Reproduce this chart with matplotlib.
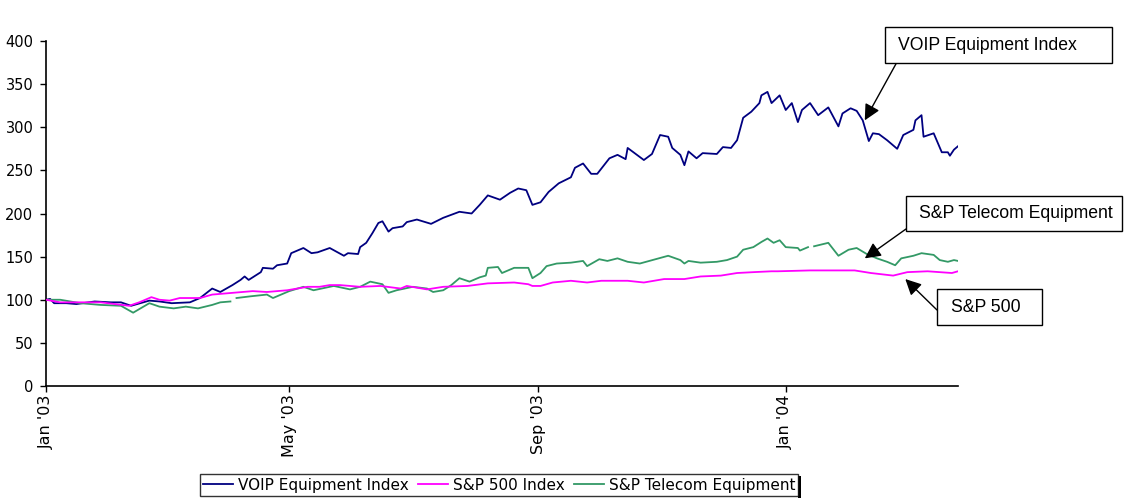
import matplotlib
matplotlib.use("Agg")
import matplotlib.pyplot as plt
from matplotlib.patches import Rectangle
import numpy as np
import pandas as pd

# ---------------- data ----------------
voip_dates = ["2003-01-01","2003-01-03","2003-01-05","2003-01-11","2003-01-16","2003-01-25","2003-02-02","2003-02-07",
              "2003-02-12","2003-02-21","2003-02-26","2003-03-04","2003-03-13","2003-03-18","2003-03-24","2003-03-28",
              "2003-04-03","2003-04-07","2003-04-09","2003-04-11","2003-04-17","2003-04-18","2003-04-23","2003-04-25",
              "2003-04-30","2003-05-02","2003-05-08","2003-05-12","2003-05-15","2003-05-21","2003-05-28","2003-05-30",
              "2003-06-04","2003-06-05","2003-06-08","2003-06-11","2003-06-14","2003-06-16","2003-06-19","2003-06-21",
              "2003-06-26","2003-06-28","2003-07-03","2003-07-10","2003-07-16","2003-07-24","2003-07-30","2003-08-03",
              "2003-08-07","2003-08-13","2003-08-18","2003-08-22","2003-08-26","2003-08-29","2003-09-02","2003-09-06",
              "2003-09-11","2003-09-17","2003-09-19","2003-09-23","2003-09-27","2003-09-30","2003-10-06","2003-10-10",
              "2003-10-14","2003-10-15","2003-10-23","2003-10-27","2003-10-31","2003-11-04","2003-11-06","2003-11-10",
              "2003-11-12","2003-11-14","2003-11-18","2003-11-21","2003-11-28","2003-12-01","2003-12-05","2003-12-08",
              "2003-12-11","2003-12-15","2003-12-19","2003-12-20","2003-12-23","2003-12-25","2003-12-29","2004-01-01",
              "2004-01-04","2004-01-07","2004-01-09","2004-01-13","2004-01-17","2004-01-22","2004-01-27","2004-01-29",
              "2004-02-02","2004-02-05","2004-02-08","2004-02-11","2004-02-13","2004-02-16","2004-02-20","2004-02-25",
              "2004-02-28","2004-03-04","2004-03-05","2004-03-08","2004-03-09","2004-03-14","2004-03-18","2004-03-21",
              "2004-03-22","2004-03-24","2004-03-26"]
voip_values = [100,101,96,96,95,98,97,97,
               93,99,98,96,97,102,113,109,
               117,123,127,123,132,137,136,140,
               142,154,160,154,155,160,151,154,
               153,161,166,177,189,191,179,183,
               185,190,193,188,195,202,200,210,
               221,216,224,229,227,210,213,225,
               235,242,253,258,246,246,264,268,
               263,276,262,269,291,289,276,268,
               256,272,264,270,269,277,276,285,
               311,318,328,337,341,328,337,320,
               328,306,320,328,314,323,301,316,
               322,319,308,284,293,292,285,275,
               291,297,308,314,289,293,271,271,
               267,274,278]

sp500_dates = ["2003-01-01","2003-01-08","2003-01-28","2003-02-11","2003-02-16","2003-02-22","2003-02-26","2003-03-03",
               "2003-03-08","2003-03-18","2003-03-24","2003-04-03","2003-04-13","2003-04-20","2003-04-30","2003-05-10",
               "2003-05-16","2003-05-21","2003-05-26","2003-06-05","2003-06-15","2003-06-25","2003-06-28","2003-07-08",
               "2003-07-16","2003-07-28","2003-08-07","2003-08-20","2003-08-27","2003-08-29","2003-09-02","2003-09-08",
               "2003-09-17","2003-09-25","2003-10-02","2003-10-15","2003-10-23","2003-11-02","2003-11-12","2003-11-20",
               "2003-11-30","2003-12-08","2003-12-16","2003-12-25","2003-12-28","2004-01-13","2004-02-04","2004-02-12",
               "2004-02-23","2004-03-01","2004-03-11","2004-03-23","2004-03-26"]
sp500_values = [100,97,97,93,97,103,100,99,
                102,102,106,108,110,109,111,115,
                115,117,117,115,116,113,116,112,
                115,116,119,120,118,116,116,120,
                122,120,122,122,120,124,124,127,
                128,131,132,133,133,134,134,131,
                128,132,133,131,133]

telecom_dates = ["2003-01-01","2003-01-08","2003-01-18","2003-01-28","2003-02-07","2003-02-13","2003-02-21","2003-02-26",
                 "2003-03-05","2003-03-11","2003-03-17","2003-03-24","2003-03-28","2003-04-02","2003-04-03","2003-04-05",
                 "2003-04-12","2003-04-20","2003-04-23","2003-05-01","2003-05-08","2003-05-13","2003-05-23","2003-05-31",
                 "2003-06-05","2003-06-10","2003-06-16","2003-06-19","2003-06-23","2003-07-01","2003-07-08","2003-07-11",
                 "2003-07-16","2003-07-20","2003-07-24","2003-07-29","2003-08-03","2003-08-06","2003-08-07","2003-08-12",
                 "2003-08-14","2003-08-20","2003-08-25","2003-08-27","2003-08-29","2003-09-02","2003-09-05","2003-09-10",
                 "2003-09-17","2003-09-23","2003-09-25","2003-10-01","2003-10-05","2003-10-10","2003-10-15","2003-10-21",
                 "2003-11-04","2003-11-10","2003-11-12","2003-11-14","2003-11-20","2003-11-28","2003-12-03","2003-12-08",
                 "2003-12-11","2003-12-16","2003-12-20","2003-12-23","2003-12-26","2003-12-29","2004-01-01","2004-01-07",
                 "2004-01-08","2004-01-12","2004-01-13","2004-01-15","2004-01-22","2004-01-27","2004-02-01","2004-02-05",
                 "2004-02-10","2004-02-15","2004-02-20","2004-02-24","2004-02-27","2004-03-04","2004-03-08","2004-03-14",
                 "2004-03-17","2004-03-21","2004-03-24","2004-03-26"]
telecom_values = [100,100,96,94,93,85,96,92,
                  90,92,90,94,97,98,np.nan,102,
                  104,106,102,110,115,111,116,112,
                  115,121,118,108,111,115,113,109,
                  111,117,125,121,126,128,137,138,
                  131,137,137,137,125,131,139,142,
                  143,145,139,147,145,148,144,142,
                  151,146,142,145,143,144,146,150,
                  158,161,167,171,166,169,161,160,
                  157,161,np.nan,162,166,151,158,160,
                  153,148,144,140,148,151,154,152,
                  146,144,146,145]

series_names = ["VOIP Equipment Index", "S&P 500 Index", "S&P Telecom Equipment"]
series_colors = ["#000080", "#FF00FF", "#339966"]
x_tick_dates = ["2003-01-01", "2003-05-01", "2003-09-01", "2004-01-01"]
x_tick_labels = ["Jan '03", "May '03", "Sep '03", "Jan '04"]
y_ticks = [0, 50, 100, 150, 200, 250, 300, 350, 400]

# ---------------- figure ----------------
W, H = 1126, 498
fig = plt.figure(figsize=(W / 100, H / 100), dpi=100)
ax = fig.add_axes([46 / W, 1 - 386 / H, (958 - 46) / W, (386 - 41) / H])

lines = []
for d, v, name, c in zip([voip_dates, sp500_dates, telecom_dates],
                         [voip_values, sp500_values, telecom_values],
                         series_names, series_colors):
    ln, = ax.plot(pd.to_datetime(d), v, color=c, lw=1.3, label=name)
    lines.append(ln)
lines[1].set_zorder(3)

ax.set_xlim(pd.Timestamp("2003-01-01"), pd.Timestamp("2004-03-26"))
ax.set_ylim(0, 400)
ax.set_yticks(y_ticks)
ax.set_xticks(pd.to_datetime(x_tick_dates))
ax.set_xticklabels(x_tick_labels, rotation=90, va="top", ha="center", fontsize=11.5)
for s in ["top", "right"]:
    ax.spines[s].set_visible(False)
for s in ["left", "bottom"]:
    ax.spines[s].set_linewidth(1.2)
ax.tick_params(axis="both", direction="out", length=4, width=1, pad=2)
ax.tick_params(axis="y", pad=5, labelsize=10.5)

leg = fig.legend(handles=lines, labels=series_names, loc="center",
                 bbox_to_anchor=(499 / W, 1 - 485 / H), ncol=3, frameon=True,
                 fancybox=False, shadow=False, edgecolor="black", fontsize=11,
                 handlelength=2.0, handletextpad=0.3, columnspacing=0.6,
                 borderpad=0.2, borderaxespad=0)
leg.get_frame().set_linewidth(1.0)
fig.canvas.draw()
bb = leg.get_window_extent()
fig.patches.append(Rectangle((bb.x1, bb.y0 - 2), 3, bb.height, transform=None,
                             facecolor="black", edgecolor="none", zorder=0))

# ---------------- annotations ----------------
ann_font = ["Liberation Sans", "DejaVu Sans"]
boxes = [
    # text, box x0, box top (image px), box width, box height, text x, arrow start (image px), arrow tip (date, value)
    ("VOIP Equipment Index", 885, 27, 227, 36, 898, (897, 62), ("2004-02-09", 308)),
    ("S&P Telecom Equipment", 906, 196, 216, 35, 919, (906, 229), ("2004-02-09", 148)),
    ("S&P 500", 937, 289, 105, 36, 951, (937, 310), ("2004-02-29", 124)),
]
for text, bx, btop, bw, bh, tx, start, tip in boxes:
    fig.patches.append(Rectangle((bx, H - btop - bh), bw, bh, transform=None,
                                 facecolor="white", edgecolor="black", lw=1.0, zorder=5))
    fig.text(tx / W, 1 - (btop + bh / 2) / H, text, fontsize=12.7, family=ann_font,
             va="center", ha="left", zorder=6)
    ax.annotate("", xy=(pd.Timestamp(tip[0]), tip[1]), xycoords="data",
                xytext=(start[0], H - start[1]), textcoords="figure pixels",
                arrowprops=dict(arrowstyle="-|>", mutation_scale=24, color="black",
                                lw=1.0, shrinkA=0, shrinkB=0),
                annotation_clip=False, zorder=6)

fig.savefig("out.png", dpi=100)
